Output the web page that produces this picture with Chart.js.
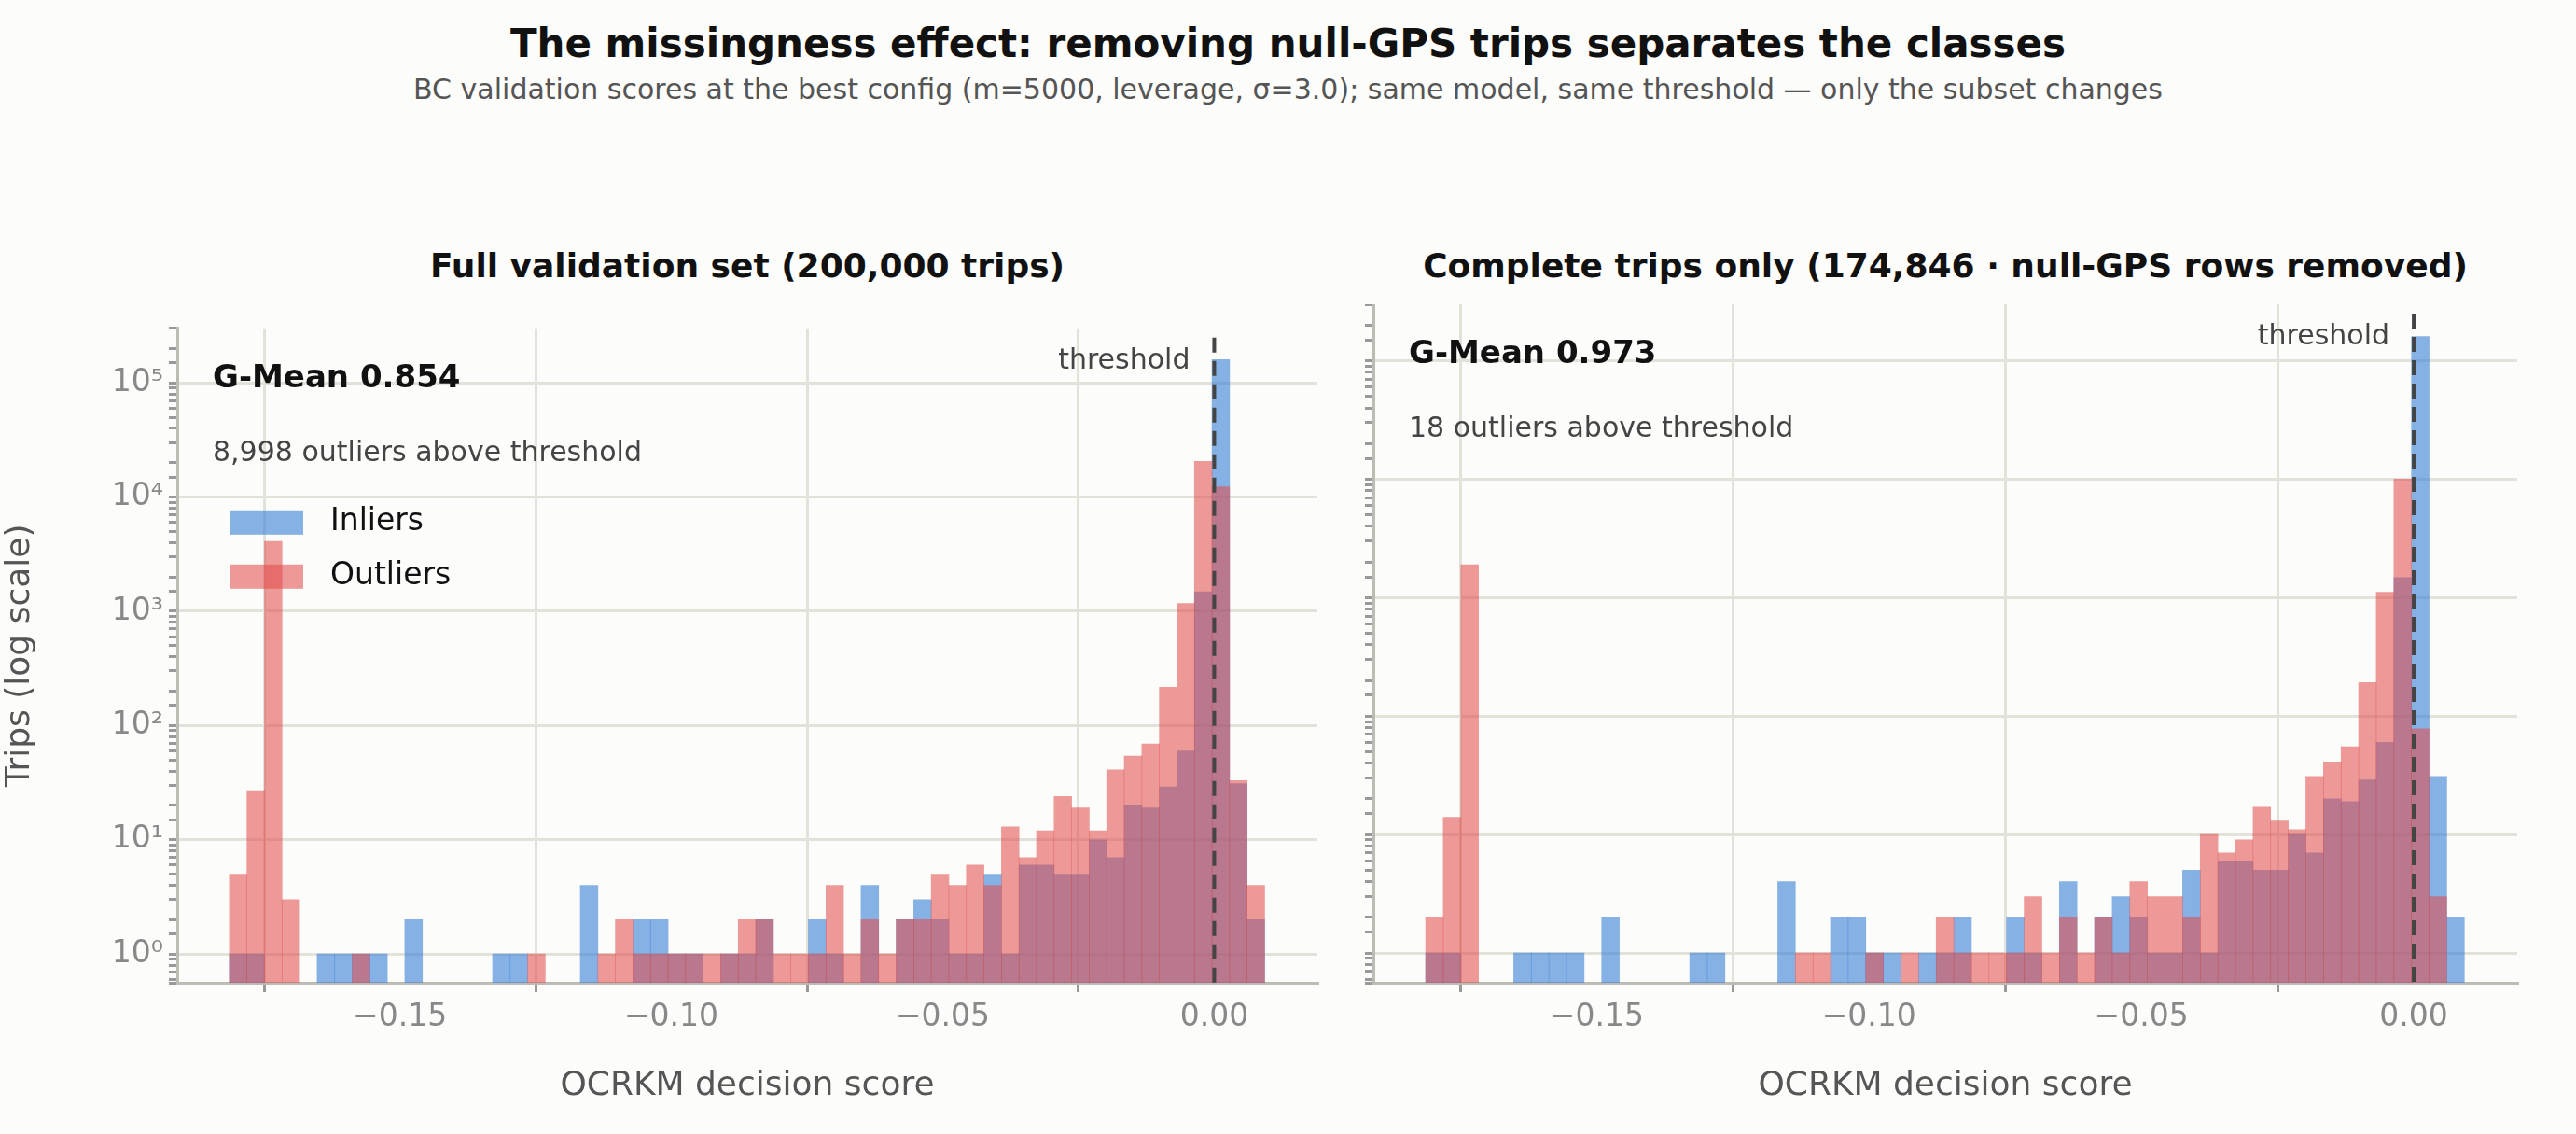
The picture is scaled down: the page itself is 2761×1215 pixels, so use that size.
<!DOCTYPE html>
<html>
<head>
<meta charset="utf-8">
<script src="https://cdn.jsdelivr.net/npm/chart.js@4.4.1/dist/chart.umd.min.js"></script>
<style>
  body { margin: 0; background: #fcfcfa; font-family: "DejaVu Sans", sans-serif; }
  #fig { position: relative; width: 2761px; height: 1215px; background: #fcfcfa; }
  .abs { position: absolute; white-space: nowrap; }
  #title { left: 0; width: 2761px; top: 22px; text-align: center; font-weight: bold; font-size: 42px; color: #111; }
  #sub { left: 0; width: 2761px; top: 78px; text-align: center; font-size: 30px; color: #555; }
  .ptitle { top: 264px; text-align: center; font-weight: bold; font-size: 36px; color: #111; }
  canvas { position: absolute; }
</style>
</head>
<body>
<div id="fig">
  <div id="title" class="abs">The missingness effect: removing null-GPS trips separates the classes</div>
  <div id="sub" class="abs">BC validation scores at the best config (m=5000, leverage, σ=3.0); same model, same threshold — only the subset changes</div>
  <div class="abs ptitle" style="left:190px;width:1222px">Full validation set (200,000 trips)</div>
  <div class="abs ptitle" style="left:1472px;width:1226px">Complete trips only (174,846 · null-GPS rows removed)</div>
  <div style="position:absolute;left:0;top:326px;width:1432px;height:889px"><canvas id="left"></canvas></div>
  <div style="position:absolute;left:1452px;top:326px;width:1266px;height:889px"><canvas id="right"></canvas></div>
</div>
<script>
// histogram bins (59 equal-width bins of decision score)
const binStart = -0.1814;
const binWidth = 0.003232;
const xTicks = [-0.15, -0.10, -0.05, 0.00];
const yTicks = [1, 10, 100, 1000, 10000, 100000];
const threshold = 0.0;

const fullInliers = [1,1,0,0,0,1,1,1,1,0, 2,0,0,0,0,1,1,0,0,0, 4,0,0,2,2,1,1,0,1,1,
  2,0,0,2,1,0,4,0,2,3, 2,1,1,5,1,6,6,5,5,10, 7,20,19,29,60,1480,160000,31,2];
const fullOutliers = [5,27,4100,3,0,0,0,1,0,0, 0,0,0,0,0,0,0,1,0,0, 0,1,2,1,1,1,1,1,1,2,
  2,1,1,1,4,1,2,1,2,2, 5,4,6,4,13,7,12,24,19,12, 41,54,69,217,1170,20500,12300,33,4];
const completeInliers = [1,1,0,0,0,1,1,1,1,0, 2,0,0,0,0,1,1,0,0,0, 4,0,0,2,2,1,1,0,1,1,
  2,0,0,2,1,0,4,0,2,3, 2,1,1,5,1,6,6,5,5,10, 7,20,19,29,60,1480,160000,31,2];
const completeOutliers = [2,14,1900,0,0,0,0,0,0,0, 0,0,0,0,0,0,0,0,0,0, 0,1,1,0,0,1,0,1,0,2,
  1,1,1,1,3,1,2,1,2,1, 4,3,3,2,10,7,9,17,13,11, 31,41,55,192,1110,10000,78,3,0];

const BLUE = 'rgba(55,127,213,0.6)';
const RED = 'rgba(225,75,73,0.56)';
const sup = {'0':'⁰','1':'¹','2':'²','3':'³','4':'⁴','5':'⁵'};

function toPoints(arr) {
  return arr.map((v, i) => ({ x: binStart + binWidth * (i + 0.5), y: v > 0 ? v : null }));
}

const annotations = {
  id: 'annotations',
  afterDatasetsDraw(chart, args, opts) {
    const ctx = chart.ctx, a = chart.chartArea;
    const xs = chart.scales.x;
    const tx = xs.getPixelForValue(threshold);
    ctx.save();
    ctx.strokeStyle = '#444';
    ctx.lineWidth = 4;
    ctx.setLineDash([16, 9]);
    ctx.beginPath();
    ctx.moveTo(tx, a.top + 10);
    ctx.lineTo(tx, a.bottom);
    ctx.stroke();
    ctx.setLineDash([]);
    ctx.textBaseline = 'middle';
    ctx.fillStyle = '#444';
    ctx.font = '30px "DejaVu Sans"';
    ctx.textAlign = 'right';
    ctx.fillText('threshold', tx - 26, a.top + 35);
    ctx.textAlign = 'left';
    ctx.fillStyle = '#111';
    ctx.font = 'bold 34px "DejaVu Sans"';
    ctx.fillText(opts.gmean, a.left + 38, a.top + 54);
    ctx.fillStyle = '#444';
    ctx.font = '30px "DejaVu Sans"';
    ctx.fillText(opts.note, a.left + 38, a.top + 134);
    if (opts.legend) {
      ctx.font = '33px "DejaVu Sans"';
      [['Inliers', BLUE, 208], ['Outliers', RED, 266]].forEach(([t, c, dy]) => {
        ctx.fillStyle = c;
        ctx.fillRect(a.left + 57, a.top + dy - 13, 78, 26);
        ctx.fillStyle = '#111';
        ctx.fillText(t, a.left + 164, a.top + dy);
      });
    }
    ctx.restore();
  }
};

function makeChart(id, inl, outl, opts) {
  new Chart(document.getElementById(id), {
    type: 'bar',
    data: {
      datasets: [
        { label: 'Inliers', data: toPoints(inl), backgroundColor: BLUE, order: 2 },
        { label: 'Outliers', data: toPoints(outl), backgroundColor: RED, order: 1 }
      ]
    },
    plugins: [annotations],
    options: {
      responsive: true,
      maintainAspectRatio: false,
      animation: false,
      layout: { padding: { right: 20, top: 0, left: 0, bottom: 0 } },
      datasets: { bar: { grouped: false, barPercentage: 1.0, categoryPercentage: 1.0, borderWidth: 0 } },
      plugins: {
        legend: { display: false },
        tooltip: { enabled: false },
        annotations: opts
      },
      scales: {
        x: {
          type: 'linear', min: -0.191, max: 0.019, offset: false,
          afterBuildTicks: s => { s.ticks = xTicks.map(v => ({ value: v })); },
          afterFit: s => { s.height = 162; },
          ticks: {
            color: '#888', font: { size: 33, family: 'DejaVu Sans' }, padding: 8,
            callback: v => v.toFixed(2).replace('-', '−')
          },
          grid: { color: '#e2e2da', lineWidth: 3, tickColor: '#999', tickLength: 10 },
          border: { display: true, color: '#bcbcb4', width: 3 },
          title: { display: true, text: 'OCRKM decision score', color: '#555',
                   font: { size: 36, family: 'DejaVu Sans' }, padding: { top: 14, bottom: 30 } }
        },
        y: {
          type: 'logarithmic', min: 0.56, max: 300000,
          afterFit: s => { s.width = opts.yWidth; },
          ticks: {
            display: opts.yLabels, autoSkip: false, color: '#888',
            font: { size: 33, family: 'DejaVu Sans' }, padding: 6,
            callback: v => {
              const e = Math.log10(v);
              return yTicks.includes(v) ? '10' + sup[String(Math.round(e))] : '';
            }
          },
          grid: {
            lineWidth: 3, tickLength: 9,
            color: c => (c.tick && yTicks.includes(c.tick.value)) ? '#e2e2da' : 'rgba(0,0,0,0)',
            tickColor: '#999'
          },
          border: { display: true, color: '#bcbcb4', width: 3 },
          title: { display: opts.yLabels, text: 'Trips (log scale)', color: '#555',
                   font: { size: 36, family: 'DejaVu Sans' }, padding: { top: 0, bottom: 0 } }
        }
      }
    }
  });
}

makeChart('left', fullInliers, fullOutliers,
  { gmean: 'G-Mean 0.854', note: '8,998 outliers above threshold', legend: true, yWidth: 190, yLabels: true });
makeChart('right', completeInliers, completeOutliers,
  { gmean: 'G-Mean 0.973', note: '18 outliers above threshold', legend: false, yWidth: 20, yLabels: false });
</script>
</body>
</html>
